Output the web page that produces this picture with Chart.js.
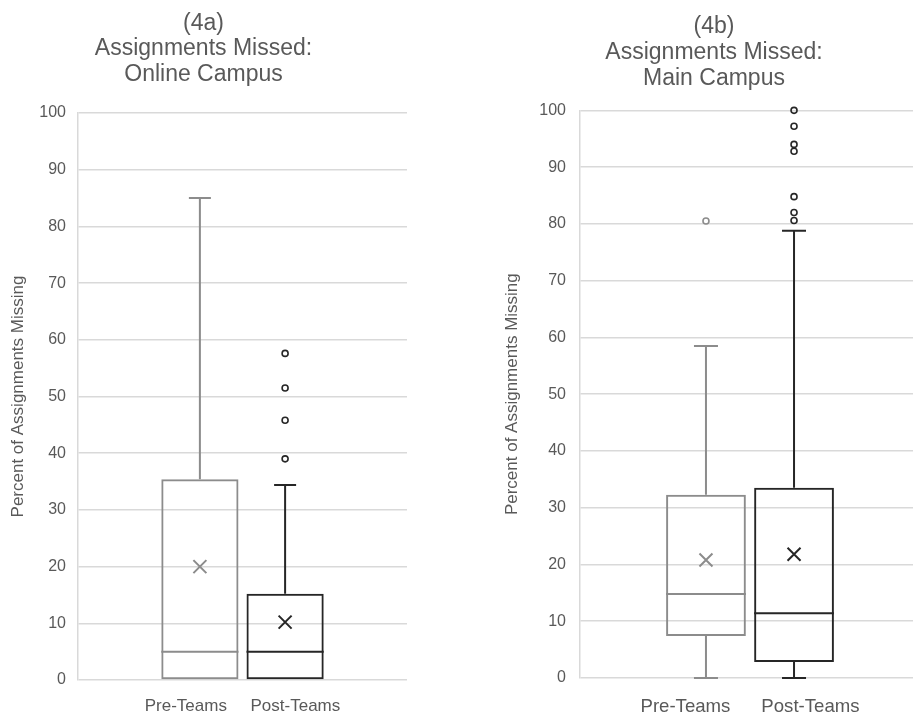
<!DOCTYPE html>
<html>
<head>
<meta charset="utf-8">
<script src="https://cdn.jsdelivr.net/npm/chart.js@4.4.0/dist/chart.umd.min.js"></script>
<style>
  html, body { margin: 0; padding: 0; background: #fff; overflow: hidden; width: 913px; height: 725px; }
  .box { position: absolute; top: 0; height: 725px; }
  #wrapA { left: 0; width: 415px; }
  #wrapB { left: 460px; width: 480px; }
</style>
</head>
<body>
<div class="box" id="wrapA"><canvas id="chartA"></canvas></div>
<div class="box" id="wrapB"><canvas id="chartB"></canvas></div>
<script>
// series / categories
var series = ['Pre-Teams', 'Post-Teams'];
var yTicks = [0, 10, 20, 30, 40, 50, 60, 70, 80, 90, 100];

// (4a) online campus
var onlineMin = [0, 0];
var onlineQ1 = [0, 0];
var onlineMedian = [5, 5];
var onlineQ3 = [35.4, 15.2];
var onlineMax = [85, 34.4];
var onlineMean = [20, 10.2];
var onlineOutliers = [[], [39, 45.8, 51.5, 57.6]];

// (4b) main campus
var mainMin = [0, 0];
var mainQ1 = [7.4, 2.8];
var mainMedian = [14.8, 11.4];
var mainQ3 = [32.3, 33.5];
var mainMax = [58.5, 78.8];
var mainMean = [20.8, 21.8];
var mainOutliers = [[80.5], [80.6, 82, 84.8, 92.8, 94, 97.2, 100]];

var colors = ['#8c8c8c', '#262626'];
var textColor = '#595959';
var fontFamily = "'Liberation Sans', Arial, sans-serif";

// whiskers, caps, medians, means and outliers on top of the floating bars
var boxPlugin = {
    id: 'boxExtras',
    afterDatasetsDraw: function(chart) {
        var ctx = chart.ctx;
        var y = chart.scales.y;
        var st = chart.options.plugins.boxExtras;
        chart.data.datasets.forEach(function(ds, i) {
            var bar = chart.getDatasetMeta(i).data[0];
            var cx = bar.x, half = bar.width / 2;
            var col = colors[i];
            var capHalf = st.cap;
            ctx.save();
            ctx.strokeStyle = col;
            ctx.lineWidth = 2;
            ctx.lineCap = 'butt';
            ctx.beginPath();
            // median
            ctx.moveTo(cx - half, y.getPixelForValue(st.median[i]));
            ctx.lineTo(cx + half, y.getPixelForValue(st.median[i]));
            // upper whisker
            ctx.moveTo(cx, y.getPixelForValue(st.q3[i]));
            ctx.lineTo(cx, y.getPixelForValue(st.max[i]));
            ctx.moveTo(cx - capHalf, y.getPixelForValue(st.max[i]));
            ctx.lineTo(cx + capHalf, y.getPixelForValue(st.max[i]));
            // lower whisker
            if (st.q1[i] > st.min[i]) {
                ctx.moveTo(cx, y.getPixelForValue(st.q1[i]));
                ctx.lineTo(cx, y.getPixelForValue(st.min[i]));
                ctx.moveTo(cx - capHalf, y.getPixelForValue(st.min[i]));
                ctx.lineTo(cx + capHalf, y.getPixelForValue(st.min[i]));
            }
            ctx.stroke();

            // mean marker
            var my = y.getPixelForValue(st.mean[i]);
            var r = 6.5;
            ctx.beginPath();
            ctx.moveTo(cx - r, my - r); ctx.lineTo(cx + r, my + r);
            ctx.moveTo(cx + r, my - r); ctx.lineTo(cx - r, my + r);
            ctx.stroke();

            // outliers
            ctx.lineWidth = 1.6;
            st.outliers[i].forEach(function(v) {
                ctx.beginPath();
                ctx.arc(cx, y.getPixelForValue(v), 3, 0, Math.PI * 2);
                ctx.stroke();
            });
            ctx.restore();
        });
    }
};

function makeChart(id, title, st, o) {
    var ctx = document.getElementById(id).getContext('2d');
    return new Chart(ctx, {
        type: 'bar',
        data: {
            labels: [series.join(o.gap)],
            datasets: series.map(function(name, i) {
                return {
                    label: name,
                    data: [[st.q1[i], st.q3[i]]],
                    backgroundColor: 'rgba(255,255,255,0)',
                    borderColor: colors[i],
                    borderWidth: 2,
                    borderSkipped: false,
                    categoryPercentage: 0.518,
                    barPercentage: 0.906
                };
            })
        },
        plugins: [boxPlugin],
        options: {
            responsive: true,
            maintainAspectRatio: false,
            animation: false,
            layout: { padding: { left: o.padLeft, right: o.padRight, top: 0, bottom: 0 } },
            plugins: {
                legend: { display: false },
                tooltip: { enabled: false },
                title: {
                    display: true,
                    text: title,
                    color: textColor,
                    font: { family: fontFamily, size: o.titleSize, weight: 'normal', lineHeight: o.titleLH },
                    padding: { top: o.titleTop, bottom: o.titleBottom }
                },
                boxExtras: st
            },
            scales: {
                x: {
                    grid: { display: false, drawTicks: false },
                    border: { display: false },
                    ticks: { color: textColor, padding: o.xPad, font: { family: fontFamily, size: o.xSize } },
                    afterFit: function(scale) { scale.height = o.xHeight; }
                },
                y: {
                    min: 0,
                    max: 100,
                    afterBuildTicks: function(scale) {
                        scale.ticks = yTicks.map(function(v) { return { value: v }; });
                    },
                    grid: { color: '#d9d9d9', lineWidth: 1.5, drawTicks: false },
                    border: { display: true, color: '#d9d9d9', width: 1.5 },
                    ticks: { color: textColor, padding: o.yPad, font: { family: fontFamily, size: 16 } },
                    title: {
                        display: true,
                        text: 'Percent of Assignments Missing',
                        color: textColor,
                        font: { family: fontFamily, size: 17 },
                        padding: { top: o.yTitlePad, bottom: 0 }
                    },
                    afterFit: function(scale) { scale.width = o.yWidth; }
                }
            }
        }
    });
}

makeChart('chartA', ['(4a)', 'Assignments Missed:', 'Online Campus'], {
    min: onlineMin, q1: onlineQ1, median: onlineMedian, q3: onlineQ3,
    max: onlineMax, mean: onlineMean, outliers: onlineOutliers, cap: 11
}, {
    padLeft: 0, padRight: 8, titleSize: 23, titleLH: 1.09, titleTop: 11.5, titleBottom: 26.3,
    xPad: 16, xSize: 17, xHeight: 45, yPad: 12, yWidth: 78, yTitlePad: 8, gap: '     '
});

makeChart('chartB', ['(4b)', 'Assignments Missed:', 'Main Campus'], {
    min: mainMin, q1: mainQ1, median: mainMedian, q3: mainQ3,
    max: mainMax, mean: mainMean, outliers: mainOutliers, cap: 12
}, {
    padLeft: 48, padRight: 20, titleSize: 23, titleLH: 1.15, titleTop: 13, titleBottom: 18,
    xPad: 18, xSize: 18.6, xHeight: 47, yPad: 14, yWidth: 72, yTitlePad: -6, gap: '      '
});
</script>
</body>
</html>
